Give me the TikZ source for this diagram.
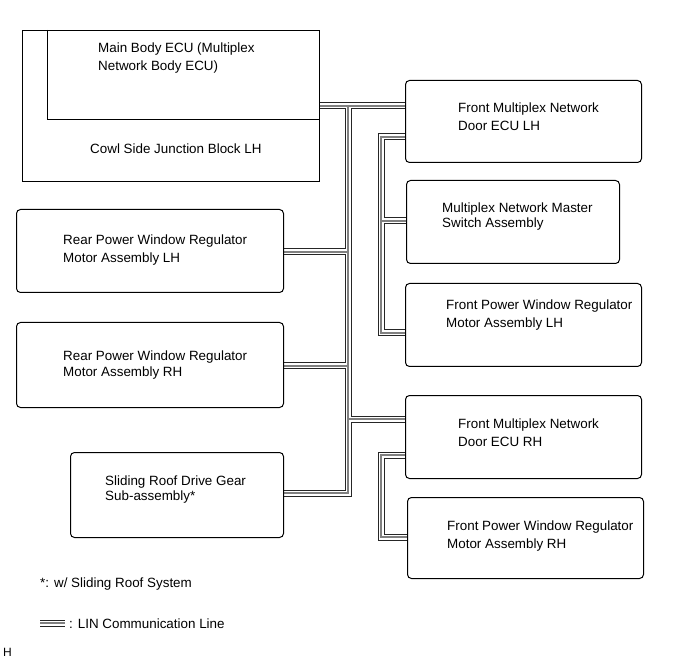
\documentclass[tikz,border=0pt]{standalone}
\usepackage{fontspec}
\setmainfont{Liberation Sans}
\pgfdeclarelayer{background}
\pgfsetlayers{background,main}
\begin{document}
\begin{tikzpicture}[x=1pt,y=-1pt,
  box/.style={draw=black, line width=1pt, rounded corners=4pt, anchor=north west, inner sep=0pt},
  sqbox/.style={draw=black, line width=1pt, anchor=north west, inner sep=0pt},
  ghost/.style={anchor=north west, inner sep=0pt},
  lbl/.style={anchor=base west, inner sep=0pt, font=\fontsize{13.4}{16}\selectfont},
  lin/.style={draw=black!50, line width=2.4pt, line join=miter,
    preaction={draw=black!85, line width=7pt},
    preaction={draw=white, line width=5pt}}]
\useasboundingbox (0,0) rectangle (691,660);

% boxes
\node[sqbox, minimum width=297pt, minimum height=151pt] (cowl) at (22,30) {};
\node[ghost, minimum width=272pt, minimum height=89pt] (mainecu) at (47,30) {};
\draw[line width=1pt] (mainecu.north west) |- (mainecu.south east);
\node[box, minimum width=236pt, minimum height=82pt] (ecuLH) at (405,80) {};
\node[box, minimum width=213pt, minimum height=83pt] (master) at (406,180) {};
\node[box, minimum width=236pt, minimum height=83pt] (pwLH) at (405,283) {};
\node[box, minimum width=236pt, minimum height=83pt] (ecuRH) at (405,395) {};
\node[box, minimum width=236pt, minimum height=81pt] (pwRH) at (407,497) {};
\node[box, minimum width=267pt, minimum height=83pt] (rearLH) at (16,209) {};
\node[box, minimum width=267pt, minimum height=85pt] (rearRH) at (16,322) {};
\node[box, minimum width=213pt, minimum height=85pt] (roof) at (70,452) {};

% labels
\node[lbl] (t1a) at (98,53) {Main Body ECU (Multiplex};
\node[lbl] (t1b) at (98,70.5) {Network Body ECU)};
\node[lbl] (t2) at (90,153.5) {Cowl Side Junction Block LH};
\node[lbl] (t3a) at (458,113) {Front Multiplex Network};
\node[lbl] (t3b) at (458,130.5) {Door ECU LH};
\node[lbl] (t4a) at (442,213) {Multiplex Network Master};
\node[lbl] (t4b) at (442,228) {Switch Assembly};
\node[lbl] (t5a) at (446,310) {Front Power Window Regulator};
\node[lbl] (t5b) at (446,328) {Motor Assembly LH};
\node[lbl] (t6a) at (458,428) {Front Multiplex Network};
\node[lbl] (t6b) at (458,446) {Door ECU RH};
\node[lbl] (t7a) at (447,530) {Front Power Window Regulator};
\node[lbl] (t7b) at (447,548) {Motor Assembly RH};
\node[lbl] (t8a) at (63,244.6) {Rear Power Window Regulator};
\node[lbl] (t8b) at (63,262.3) {Motor Assembly LH};
\node[lbl] (t9a) at (63,360) {Rear Power Window Regulator};
\node[lbl] (t9b) at (63,377) {Motor Assembly RH};
\node[lbl] (t10a) at (105,485.6) {Sliding Roof Drive Gear};
\node[lbl] (t10b) at (105,500.5) {Sub-assembly*};
\node[lbl] (foot) at (40,587) {*: w/ Sliding Roof System};
\node[lbl] (legt) at (69,628) {: LIN Communication Line};
\node[lbl, font=\fontsize{12}{14}\selectfont] (hmark) at (3,656) {H};

% junction coordinates
\coordinate (tA) at (348,106);
\coordinate (tB) at (348,252);
\coordinate (tC) at (348,366);
\coordinate (tD) at (348,419);
\coordinate (tE) at (348,493);
\coordinate (rA) at (381,137);
\coordinate (rB) at (381,221);
\coordinate (rC) at (381,333);
\coordinate (sA) at (381,455);
\coordinate (sB) at (381,537);
\coordinate (lg1) at (40,623);
\coordinate (lg2) at (65,623);

\begin{pgfonlayer}{background}
\draw[lin] (mainecu.east |- tA) -- (ecuLH.west |- tA)
  (tA) -- (tE) -- (roof.east |- tE)
  (tB) -- (rearLH.east |- tB)
  (tC) -- (rearRH.east |- tC)
  (tD) -- (ecuRH.west |- tD)
  (ecuLH.west |- rA) -- (rA) -- (rC) -- (pwLH.west |- rC)
  (rB) -- (master.west |- rB)
  (ecuRH.west |- sA) -- (sA) -- (sB) -- (pwRH.west |- sB);
\draw[lin] (lg1) -- (lg2);
\end{pgfonlayer}
\end{tikzpicture}
\end{document}
